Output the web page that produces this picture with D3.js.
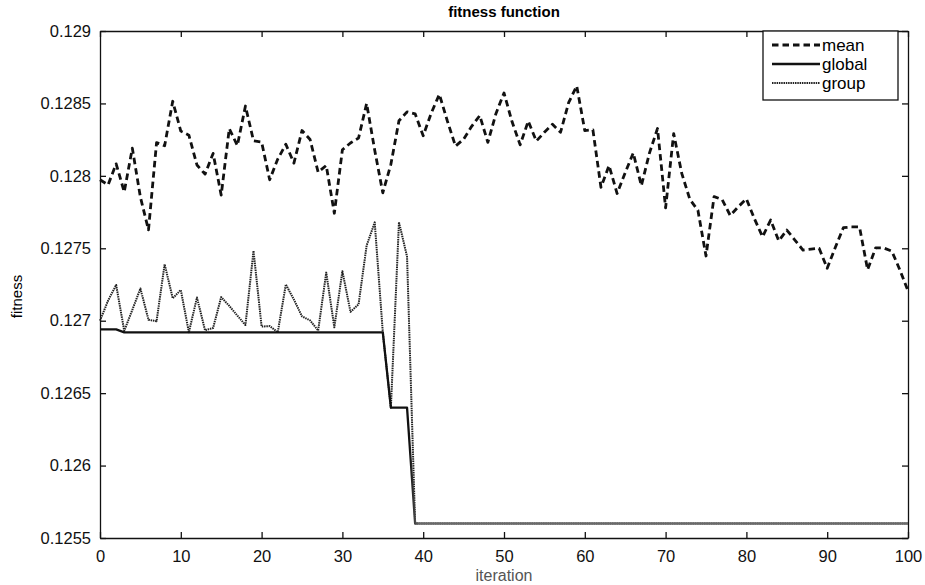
<!DOCTYPE html>
<html lang="en">
<head>
  <meta charset="UTF-8">
  <title>fitness function</title>
  <script src="https://d3js.org/d3.v7.min.js"></script>
  <style>
    body { margin: 0; background: #fff; font-family: "Liberation Sans", Arial, sans-serif; }
    svg { display: block; }
    .axis text { font-size: 16.5px; fill: #111; font-family: "Liberation Sans", Arial, sans-serif; }
    .axis path, .axis line { stroke: #111; stroke-width: 1.3px; }
  </style>
</head>
<body>
  <svg id="chart" width="925" height="585"></svg>

  <script>
    const iterations = d3.range(0, 101);

    const meanFitness = [
      0.127973, 0.127938, 0.128083, 0.127889, 0.128191, 0.127853, 0.127627, 0.128229, 0.128208, 0.128515,
      0.128309, 0.128281, 0.128075, 0.128012, 0.128155, 0.127867, 0.128326, 0.128209, 0.128482, 0.128242,
      0.128234, 0.127973, 0.128116, 0.128218, 0.128088, 0.128313, 0.128251, 0.128025, 0.128072, 0.127742,
      0.128180, 0.128227, 0.128261, 0.128500, 0.128177, 0.127883, 0.128080, 0.128380, 0.128442, 0.128428,
      0.128277, 0.128434, 0.128563, 0.128377, 0.128205, 0.128253, 0.128342, 0.128416, 0.128231, 0.128429,
      0.128572, 0.128373, 0.128214, 0.128378, 0.128240, 0.128301, 0.128356, 0.128301, 0.128505, 0.128621,
      0.128312, 0.128318, 0.127921, 0.128071, 0.127878, 0.128022, 0.128158, 0.127932, 0.128157, 0.128327,
      0.127779, 0.128292, 0.128017, 0.127838, 0.127762, 0.127447, 0.127857, 0.127836, 0.127726, 0.127787,
      0.127841, 0.127703, 0.127579, 0.127695, 0.127551, 0.127626, 0.127557, 0.127488, 0.127494, 0.127500,
      0.127362, 0.127505, 0.127642, 0.127648, 0.127647, 0.127352, 0.127503, 0.127502, 0.127480, 0.127350,
      0.127206
    ];

    const globalFitness = [
      0.12694, 0.12694, 0.12694, 0.12692, 0.12692, 0.12692, 0.12692, 0.12692, 0.12692, 0.12692,
      0.12692, 0.12692, 0.12692, 0.12692, 0.12692, 0.12692, 0.12692, 0.12692, 0.12692, 0.12692,
      0.12692, 0.12692, 0.12692, 0.12692, 0.12692, 0.12692, 0.12692, 0.12692, 0.12692, 0.12692,
      0.12692, 0.12692, 0.12692, 0.12692, 0.12692, 0.12692, 0.12640, 0.12640, 0.12640, 0.12560,
      0.12560, 0.12560, 0.12560, 0.12560, 0.12560, 0.12560, 0.12560, 0.12560, 0.12560, 0.12560,
      0.12560, 0.12560, 0.12560, 0.12560, 0.12560, 0.12560, 0.12560, 0.12560, 0.12560, 0.12560,
      0.12560, 0.12560, 0.12560, 0.12560, 0.12560, 0.12560, 0.12560, 0.12560, 0.12560, 0.12560,
      0.12560, 0.12560, 0.12560, 0.12560, 0.12560, 0.12560, 0.12560, 0.12560, 0.12560, 0.12560,
      0.12560, 0.12560, 0.12560, 0.12560, 0.12560, 0.12560, 0.12560, 0.12560, 0.12560, 0.12560,
      0.12560, 0.12560, 0.12560, 0.12560, 0.12560, 0.12560, 0.12560, 0.12560, 0.12560, 0.12560,
      0.12560
    ];

    const groupFitness = [
      0.127000, 0.127139, 0.127247, 0.126930, 0.127075, 0.127222, 0.127007, 0.126996, 0.127390, 0.127155,
      0.127212, 0.126920, 0.127160, 0.126934, 0.126950, 0.127163, 0.127102, 0.127035, 0.126970, 0.127482,
      0.126960, 0.126963, 0.126921, 0.127250, 0.127146, 0.127030, 0.127002, 0.126932, 0.127332, 0.126955,
      0.127342, 0.127061, 0.127113, 0.127519, 0.127679, 0.126920, 0.126400, 0.127680, 0.127443, 0.12560,
      0.12560, 0.12560, 0.12560, 0.12560, 0.12560, 0.12560, 0.12560, 0.12560, 0.12560, 0.12560,
      0.12560, 0.12560, 0.12560, 0.12560, 0.12560, 0.12560, 0.12560, 0.12560, 0.12560, 0.12560,
      0.12560, 0.12560, 0.12560, 0.12560, 0.12560, 0.12560, 0.12560, 0.12560, 0.12560, 0.12560,
      0.12560, 0.12560, 0.12560, 0.12560, 0.12560, 0.12560, 0.12560, 0.12560, 0.12560, 0.12560,
      0.12560, 0.12560, 0.12560, 0.12560, 0.12560, 0.12560, 0.12560, 0.12560, 0.12560, 0.12560,
      0.12560, 0.12560, 0.12560, 0.12560, 0.12560, 0.12560, 0.12560, 0.12560, 0.12560, 0.12560,
      0.12560
    ];

    const xTicks = [0, 10, 20, 30, 40, 50, 60, 70, 80, 90, 100];
    const yTicks = [0.1255, 0.126, 0.1265, 0.127, 0.1275, 0.128, 0.1285, 0.129];
    const yTickLabels = ["0.1255", "0.126", "0.1265", "0.127", "0.1275", "0.128", "0.1285", "0.129"];

    const seriesNames = ["mean", "global", "group"];

    const plotLeft = 100, plotRight = 908, plotTop = 31, plotBottom = 538;

    const svg = d3.select("#chart");

    const x = d3.scaleLinear().domain([0, 100]).range([plotLeft, plotRight]);
    const y = d3.scaleLinear().domain([0.1255, 0.129]).range([plotBottom, plotTop]);

    // the scanned global curve fades to grey after the last drop
    const grad = svg.append("defs").append("linearGradient")
      .attr("id", "globalFade")
      .attr("gradientUnits", "userSpaceOnUse")
      .attr("x1", plotLeft).attr("x2", plotRight).attr("y1", 0).attr("y2", 0);
    grad.append("stop").attr("offset", (x(38.3) - plotLeft) / (plotRight - plotLeft)).attr("stop-color", "#111");
    grad.append("stop").attr("offset", (x(39.5) - plotLeft) / (plotRight - plotLeft)).attr("stop-color", "#6a6a6a");
    grad.append("stop").attr("offset", 1).attr("stop-color", "#6a6a6a");

    const styles = {
      mean:   { stroke: "#111", width: 2.8, dash: "6.5,4" },
      global: { stroke: "url(#globalFade)", legend: "#111", width: 2.3, dash: null },
      group:  { stroke: "#222", width: 2, dash: "1.5,0.8" }
    };

    // axes, ticks point inward like matlab
    svg.append("g").attr("class", "axis")
      .attr("transform", `translate(0,${plotBottom})`)
      .call(d3.axisBottom(x).tickValues(xTicks).tickSizeInner(-6).tickSizeOuter(0).tickPadding(12).tickFormat(d3.format("d")));

    svg.append("g").attr("class", "axis")
      .attr("transform", `translate(0,${plotTop})`)
      .call(d3.axisTop(x).tickValues(xTicks).tickSizeInner(-6).tickSizeOuter(0).tickFormat(""));

    svg.append("g").attr("class", "axis")
      .attr("transform", `translate(${plotLeft},0)`)
      .call(d3.axisLeft(y).tickValues(yTicks).tickSizeInner(-6).tickSizeOuter(0).tickPadding(9)
        .tickFormat((d, i) => yTickLabels[i]));

    svg.append("g").attr("class", "axis")
      .attr("transform", `translate(${plotRight},0)`)
      .call(d3.axisRight(y).tickValues(yTicks).tickSizeInner(-6).tickSizeOuter(0).tickFormat(""));

    // lines: group under global so the shared tail reads as one solid line
    const line = d3.line().x((d, i) => x(iterations[i])).y(d => y(d));

    const seriesData = { mean: meanFitness, global: globalFitness, group: groupFitness };

    ["group", "global", "mean"].forEach(name => {
      const s = styles[name];
      svg.append("path")
        .datum(seriesData[name])
        .attr("fill", "none")
        .attr("stroke", s.stroke)
        .attr("stroke-width", s.width)
        .attr("stroke-dasharray", s.dash)
        .attr("stroke-linejoin", "round")
        .attr("d", line);
    });

    // titles
    svg.append("text")
      .attr("x", (plotLeft + plotRight) / 2).attr("y", 17)
      .attr("text-anchor", "middle")
      .style("font-size", "15px").style("font-weight", "bold")
      .text("fitness function");

    svg.append("text")
      .attr("x", (plotLeft + plotRight) / 2).attr("y", 581)
      .attr("text-anchor", "middle")
      .style("font-size", "16px").style("fill", "#555")
      .text("iteration");

    svg.append("text")
      .attr("transform", `translate(22,${(plotTop + plotBottom) / 2 + 12}) rotate(-90)`)
      .attr("text-anchor", "middle")
      .style("font-size", "15px")
      .text("fitness");

    // legend
    const legend = svg.append("g").attr("transform", "translate(763,31)");
    legend.append("rect")
      .attr("width", 135).attr("height", 69)
      .attr("fill", "#fff").attr("stroke", "#111").attr("stroke-width", 1.3);

    seriesNames.forEach((name, i) => {
      const s = styles[name];
      const ly = 14 + i * 19;
      legend.append("line")
        .attr("x1", 9).attr("x2", 57).attr("y1", ly).attr("y2", ly)
        .attr("stroke", s.legend || s.stroke).attr("stroke-width", s.width)
        .attr("stroke-dasharray", s.dash);
      legend.append("text")
        .attr("x", 59).attr("y", ly + 6)
        .style("font-size", "17px")
        .text(name);
    });
  </script>
</body>
</html>
